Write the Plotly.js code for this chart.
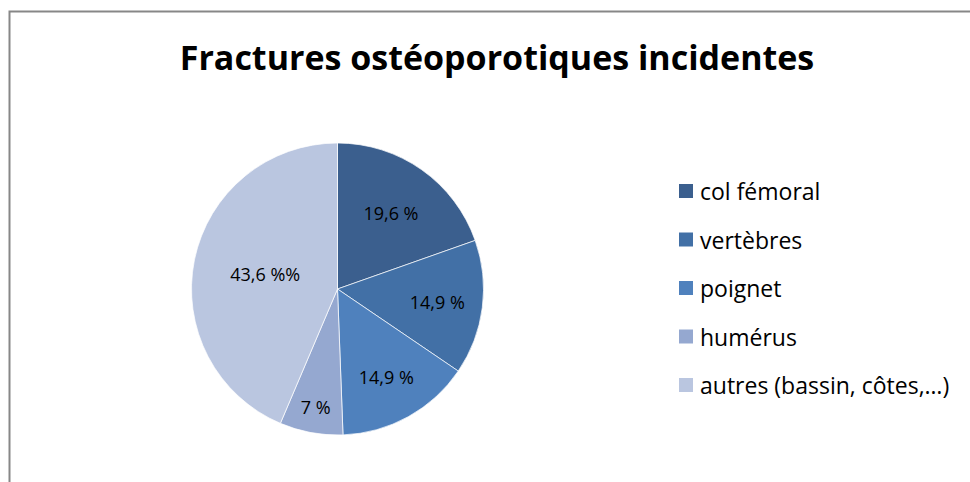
<!DOCTYPE html>
<html><head><meta charset="utf-8">
<script src="https://cdn.plot.ly/plotly-3.0.1.min.js"></script>
<style>html,body{margin:0;padding:0;background:#fff}#chart{width:970px;height:482px}</style>
</head><body><div id="chart"></div>
<script>
const categories = ["col fémoral", "vertèbres", "poignet", "humérus", "autres (bassin, côtes,…)"];
const values = [19.6, 14.9, 14.9, 7, 43.6];
const sliceLabels = ["19,6 %", "14,9 %", "14,9 %", "7 %", "43,6 %%"];
const colors = ["#3B5F8E", "#4270A6", "#4F81BD", "#95A8D0", "#BAC6E0"];
const titleText = "Fractures ostéoporotiques incidentes";

const W = 970, H = 482;
const cx = 337.5, cy = 289, r = 146;
const FONT = "Open Sans, Liberation Sans, sans-serif";

const trace = {
  type: "pie",
  labels: categories,
  values: values,
  text: sliceLabels,
  textinfo: "text",
  textposition: "inside",
  insidetextorientation: "horizontal",
  insidetextfont: {family: FONT, size: 18, color: "#000"},
  sort: false,
  direction: "clockwise",
  rotation: 0,
  marker: {colors: colors, line: {color: "#ffffff", width: 0.7}},
  domain: {x: [(cx - r) / W, (cx + r) / W], y: [(H - cy - r) / H, (H - cy + r) / H]},
  showlegend: false,
  hoverinfo: "label+percent"
};

const shapes = [{
  type: "rect", xref: "paper", yref: "paper",
  x0: 9.5 / W, x1: 1.2, y0: -0.2, y1: 1 - 11.5 / H,
  line: {color: "#878787", width: 2}, fillcolor: "rgba(0,0,0,0)", layer: "below"
}];
const annotations = [];
const legX = 679, legY0 = 191, legGap = 48.5, sq = 14;
categories.forEach((c, i) => {
  const y = legY0 + i * legGap;
  shapes.push({type: "rect", xref: "paper", yref: "paper",
    x0: legX / W, x1: (legX + sq) / W, y0: 1 - (y + sq / 2) / H, y1: 1 - (y - sq / 2) / H,
    fillcolor: colors[i], line: {width: 0}});
  annotations.push({xref: "paper", yref: "paper", x: (legX + sq + 5) / W, y: 1 - y / H,
    xanchor: "left", yanchor: "middle", showarrow: false, text: c,
    font: {family: FONT, size: 23, color: "#000"}});
});

const layout = {
  width: W, height: H,
  margin: {l: 0, r: 0, t: 0, b: 0},
  paper_bgcolor: "#fff",
  title: {text: "<b>" + titleText + "</b>", x: 497 / W, xanchor: "center", y: 1 - 58 / H, yanchor: "middle",
    font: {family: FONT, size: 34, color: "#000"}},
  shapes: shapes,
  annotations: annotations
};
Plotly.newPlot("chart", [trace], layout, {displayModeBar: false, staticPlot: true});
</script></body></html>
